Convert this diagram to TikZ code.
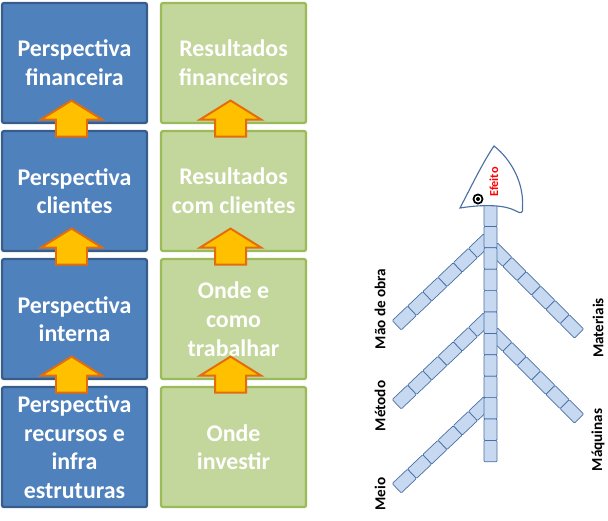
\documentclass[tikz,border=0pt]{standalone}
\usepackage{fontspec}
\setmainfont{Carlito}
\usepackage{xcolor}
\definecolor{cardblue}{HTML}{4F81BD}
\definecolor{cardblueline}{HTML}{385D8A}
\definecolor{cardgreen}{HTML}{C3D69B}
\definecolor{cardgreenline}{HTML}{9BBB59}
\definecolor{arrowfill}{HTML}{FFC000}
\definecolor{arrowline}{HTML}{E46C0A}
\definecolor{bonefill}{HTML}{C6D9F1}
\definecolor{boneline}{HTML}{4A6FA5}
\usepackage{tikz}
\usetikzlibrary{positioning,calc}

\begin{document}
\begin{tikzpicture}[x=0.025cm,y=-0.025cm,
  card/.style={rectangle,rounded corners=1.5pt,line width=1.6pt,outer sep=0pt,
    text=white,minimum width=3.625cm,minimum height=3cm,inner sep=0pt,
    align=center,font=\fontsize{17}{20.4}\selectfont\bfseries},
  bluecard/.style={card,fill=cardblue,draw=cardblueline},
  greencard/.style={card,fill=cardgreen,draw=cardgreenline},
  uparrow/.style={fill=arrowfill,draw=arrowline,line width=1.4pt},
  bone/.style={fill=bonefill,draw=boneline,line width=0.5pt,rounded corners=0.7pt},
  bonelabel/.style={rotate=90,font=\fontsize{10.8}{12}\selectfont\bfseries}]
  \useasboundingbox (0,0) rectangle (608,521);
  % Perspectives
  \node[bluecard] (pfin) at (74.5,63) {Perspectiva\\financeira};
  \node[bluecard,below=0.2cm of pfin] (pcli) {Perspectiva\\clientes};
  \node[bluecard,below=0.2cm of pcli] (pint) {Perspectiva\\interna};
  \node[bluecard,below=0.2cm of pint] (prec) {Perspectiva\\recursos e\\infra\\estruturas};
  % Results
  \node[greencard,right=0.35cm of pfin] (rfin) {Resultados\\financeiros};
  \node[greencard,below=0.2cm of rfin] (rcli) {Resultados\\com clientes};
  \node[greencard,below=0.2cm of rcli] (rtrab) {Onde e\\como\\trabalhar};
  \node[greencard,below=0.2cm of rtrab] (rinv) {Onde\\investir};
  % Block arrows between cards
  \foreach \lo/\hi in {pcli/pfin,pint/pcli,prec/pint,rcli/rfin,rtrab/rcli,rinv/rtrab}
    \draw[uparrow] ($(\hi.south)!0.5!(\lo.north)+(-3,-26.5)$) -- ++(30.5,19)
      -- ++(-15,0) -- ++(0,17) -- ++(-31,0) -- ++(0,-17) -- ++(-15,0) -- cycle;
  % Fishbone branches
  \foreach \sx/\sy/\ang/\seg in {484.5/242/-136.5/21, 484.5/321/-136.5/21,
      484.5/405/-136.5/21, 496.5/251/-45/20.3, 496.5/336/-45/20.3}{
    \begin{scope}[shift={(\sx,\sy)},rotate=\ang]
      \foreach \k in {0,...,5}
        \draw[bone] ({-5+\k*\seg},-6.5) rectangle ++(\seg,13);
    \end{scope}
  }
  % Spine
  \foreach \i in {0,...,11}
    \draw[bone] (484,{205+\i*21.4}) rectangle ++(13,21.4);
  % Head
  \draw[fill=white,draw=boneline,line width=0.8pt] (494,146)
    .. controls (512,160) and (524,184) .. (522.5,207)
    .. controls (523.5,213) and (521,214) .. (516,211)
    .. controls (505,205) and (485,204) .. (460,208)
    .. controls (471,187) and (483,162) .. (494,146) -- cycle;
  \fill[black] (478,199) circle (5.5);
  \fill[white] (478,199) circle (3.5);
  \fill[black] (478,199) circle (2);
  \node[rotate=90,text=red,font=\fontsize{8.7}{10}\selectfont\bfseries] (efeito) at (494,182) {Efeito};
  % Causes
  \node[bonelabel] (lmao) at (380,309) {Mão de obra};
  \node[bonelabel] (lmet) at (380,406) {Método};
  \node[bonelabel] (lmeio) at (380,494) {Meio};
  \node[bonelabel] (lmat) at (598,328) {Materiais};
  \node[bonelabel] (lmaq) at (598,440) {Máquinas};
\end{tikzpicture}
\end{document}
